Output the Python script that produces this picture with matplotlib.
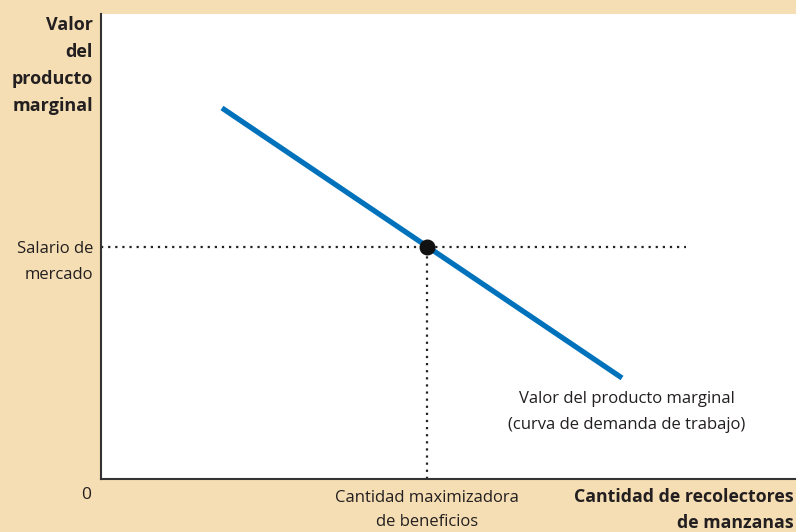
import matplotlib
matplotlib.use("Agg")
import matplotlib.pyplot as plt

plt.rcParams['font.family'] = ['Open Sans', 'DejaVu Sans']

W, H = 796, 532
# data (axis units, 0..695 horizontal, 0..465 vertical)
vpm_x = [121, 521]
vpm_y = [371, 101]
q_star = 326
wage = 232
wage_line_end = 585
xmax, ymax = 695, 465

bg = '#f5deb3'
blue = '#0072bc'
axcol = '#333333'

fig = plt.figure(figsize=(W/100, H/100), dpi=100, facecolor=bg)
ax = fig.add_axes([101/W, 1 - 479/H, (W-101)/W, (479-14)/H])
ax.set_facecolor('white')
ax.set_xlim(0, xmax)
ax.set_ylim(0, ymax)
for s in ['top', 'right']:
    ax.spines[s].set_visible(False)
for s in ['left', 'bottom']:
    ax.spines[s].set_color(axcol)
    ax.spines[s].set_linewidth(1.5)
ax.set_xticks([])
ax.set_yticks([])

ax.plot(vpm_x, vpm_y, color=blue, lw=3.8, solid_capstyle='butt', zorder=3)
ax.plot([0, wage_line_end], [wage, wage], color='#222222', lw=1.6,
        linestyle=(0, (1, 2.2)), zorder=2)
ax.plot([q_star, q_star], [0, wage], color='#222222', lw=1.6,
        linestyle=(0, (1, 2.2)), zorder=2)
ax.scatter([q_star], [wage], s=110, color='#111111', zorder=4)

def ft(x, y, s, **kw):
    fig.text(x/W, 1 - y/H, s, **kw)

tc = '#231f20'
ft(93, 65.5, 'Valor\ndel\nproducto\nmarginal', ha='right', va='center',
   fontsize=13, fontweight='bold', color=tc, linespacing=1.62)
ft(93, 262, 'Salario de\nmercado', ha='right', va='center',
   fontsize=12, color=tc, linespacing=1.78)
ft(86, 495, '0', ha='center', va='center', fontsize=12.5, color=tc)
ft(427, 510, 'Cantidad maximizadora\nde beneficios', ha='center', va='center',
   fontsize=12, color=tc, linespacing=1.65)
ft(794, 510, 'Cantidad de recolectores\nde manzanas', ha='right', va='center',
   fontsize=12.8, fontweight='bold', color=tc, linespacing=1.52)
ft(627, 412, 'Valor del producto marginal\n(curva de demanda de trabajo)',
   ha='center', va='center', fontsize=12, color=tc, linespacing=1.78)

fig.savefig('out.png', dpi=100, facecolor=bg)
